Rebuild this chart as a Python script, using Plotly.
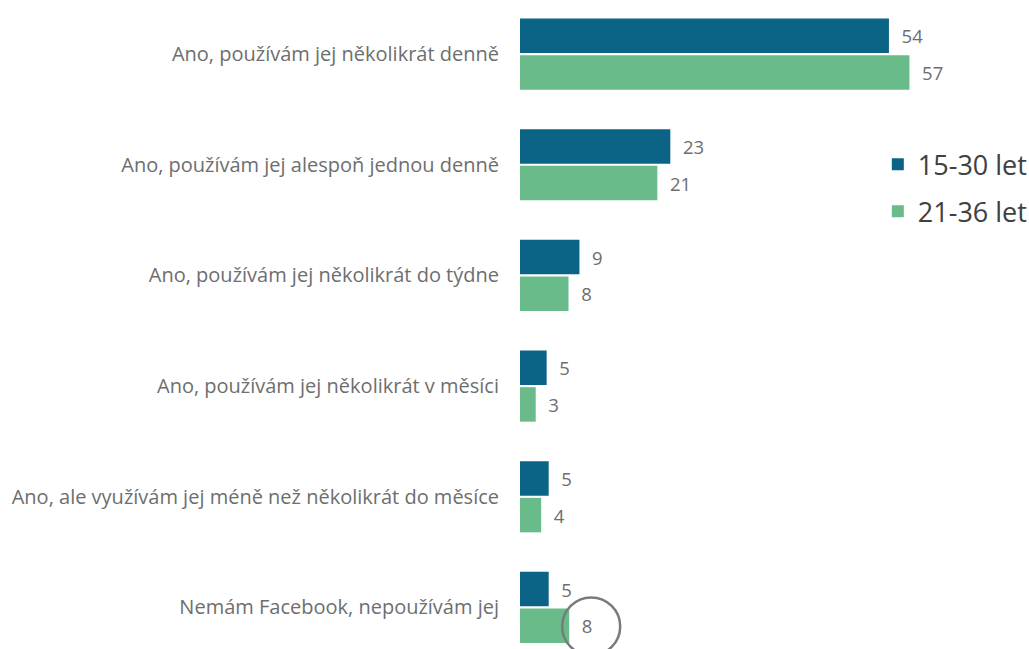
import plotly.graph_objects as go

categories = [
    "Ano, používám jej několikrát denně",
    "Ano, používám jej alespoň jednou denně",
    "Ano, používám jej několikrát do týdne",
    "Ano, používám jej několikrát v měsíci",
    "Ano, ale využívám jej méně než několikrát do měsíce",
    "Nemám Facebook, nepoužívám jej",
]
series_names = ["15-30 let", "21-36 let"]
values_a = [54.0, 22.0, 8.7, 3.9, 4.2, 4.2]
values_b = [57.0, 20.1, 7.1, 2.3, 3.1, 7.2]
labels_a = ["54", "23", "9", "5", "5", "5"]
labels_b = ["57", "21", "8", "3", "4", "8"]

color_a = "#0B6485"
color_b = "#6ABB8A"
FONT = "Open Sans"
pad = "\u00a0\u00a0"

fig = go.Figure()
fig.add_trace(go.Bar(
    y=categories, x=values_a, orientation="h", name=series_names[0],
    legendgroup="a",
    marker=dict(color=color_a, line=dict(width=0)),
    text=[pad + t for t in labels_a], textposition="outside", cliponaxis=False,
    textfont=dict(family=FONT, size=18.5, color="#6E6E6E"),
))
fig.add_trace(go.Bar(
    y=categories, x=values_b, orientation="h", name=series_names[1],
    legendgroup="b",
    marker=dict(color=color_b, line=dict(width=0)),
    text=[pad + t for t in labels_b], textposition="outside", cliponaxis=False,
    textfont=dict(family=FONT, size=18.5, color="#6E6E6E"),
))

# highlight circle around last green label
fig.add_shape(
    type="circle", xref="x", yref="y",
    xsizemode="pixel", ysizemode="pixel",
    xanchor=values_b[-1], yanchor=categories[-1],
    x0=-7, x1=51, y0=-48, y1=10,
    line=dict(color="#7A7A7A", width=2.5),
)

fig.update_layout(
    width=1029, height=649,
    margin=dict(l=520, r=0, t=0, b=0, autoexpand=False),
    paper_bgcolor="white", plot_bgcolor="white",
    barmode="group", bargap=0.337, bargroupgap=0.06,
    showlegend=True,
    legend=dict(x=0.703, y=0.784, xanchor="left", yanchor="top",
                traceorder="grouped", tracegroupgap=9,
                font=dict(family=FONT, size=27, color="#404040"),
                bgcolor="rgba(0,0,0,0)"),
    font=dict(family=FONT),
    xaxis=dict(range=[0, 74.5], visible=False, showgrid=False, zeroline=False),
    yaxis=dict(range=[5.376, -0.489], showgrid=False, zeroline=False, showline=False,
               ticks="", ticklabelstandoff=20, automargin=False,
               tickfont=dict(family=FONT, size=20, color="#6E6E6E")),
)

fig.write_html("out.html", config={"displayModeBar": False},
               post_script="document.body.style.margin='0';")
